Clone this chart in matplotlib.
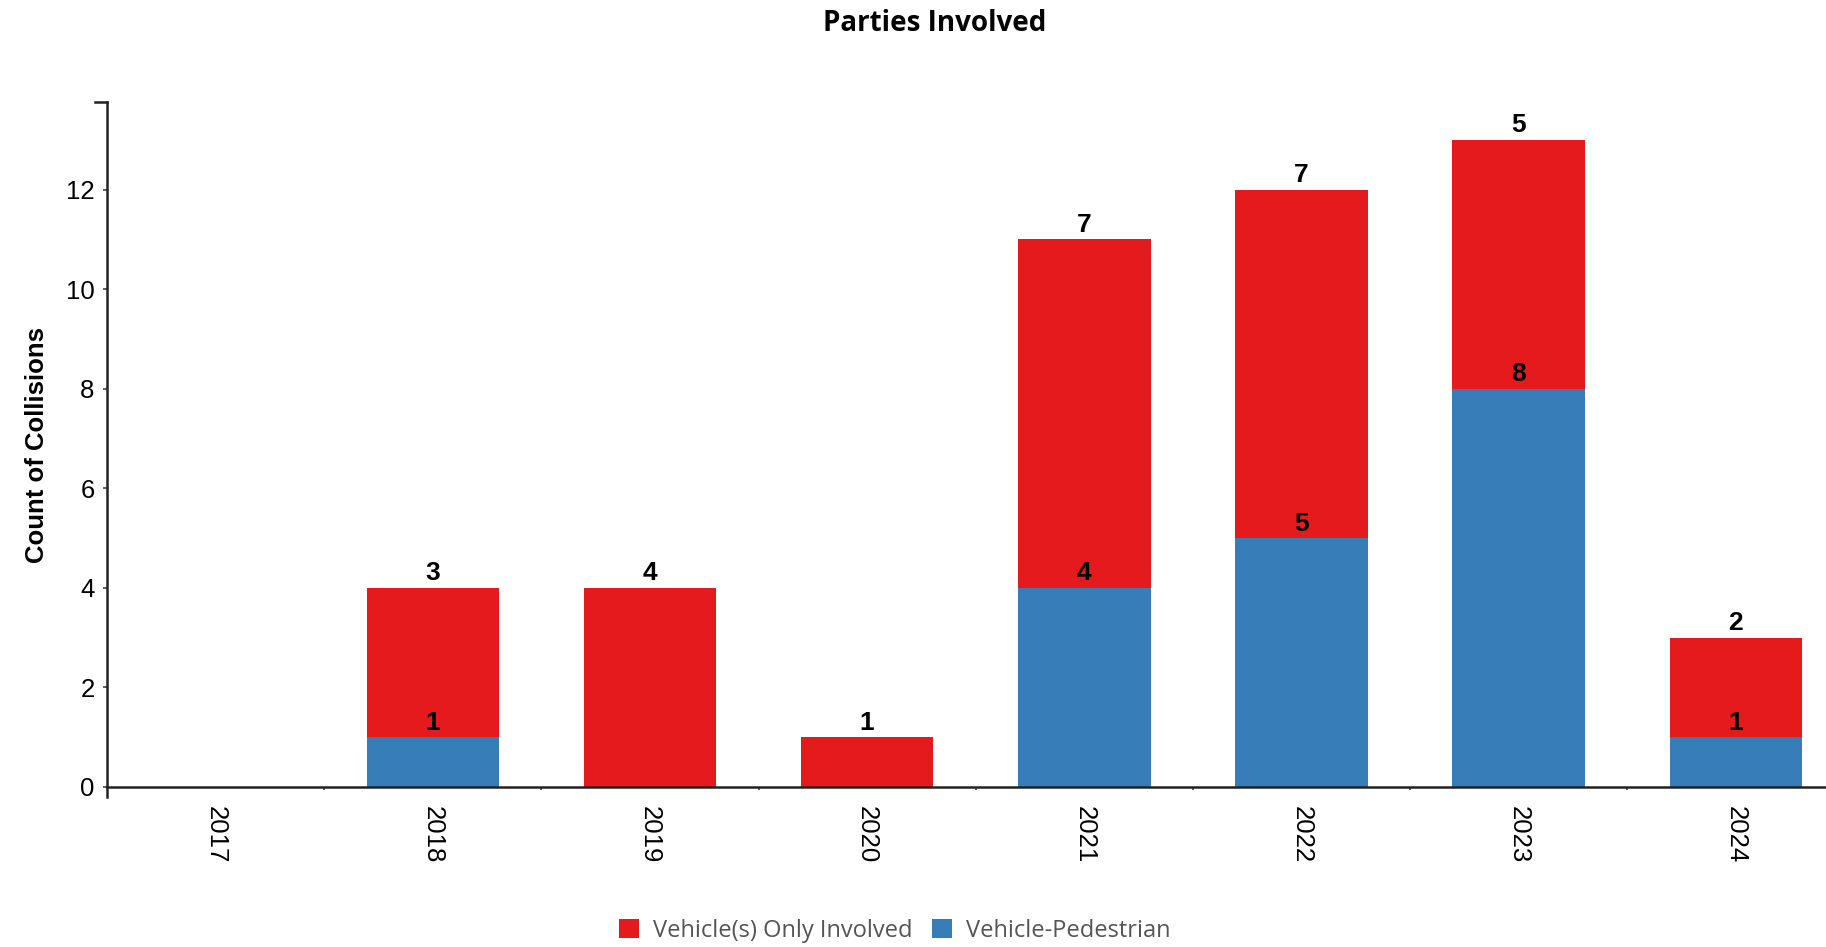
import matplotlib.pyplot as plt
import numpy as np

# data
years = ['2017', '2018', '2019', '2020', '2021', '2022', '2023', '2024']
vehicle_only = [0, 3, 4, 1, 7, 7, 5, 2]
vehicle_ped = [0, 1, 0, 0, 4, 5, 8, 1]
y_ticks = [0, 2, 4, 6, 8, 10, 12]

RED = '#E41A1C'
BLUE = '#377EB8'

fig = plt.figure(figsize=(18.26, 9.47), dpi=100)
ax = fig.add_axes([0.0586, 0.169, 0.9515, 0.7228])

x = np.arange(len(years))
ped = np.array(vehicle_ped)
only = np.array(vehicle_only)

b1 = ax.bar(x, ped, width=0.61, color=BLUE, label='Vehicle-Pedestrian')
b2 = ax.bar(x, only, width=0.61, bottom=ped, color=RED, label='Vehicle(s) Only Involved')

# value labels sit just above each segment's top
for i in range(len(years)):
    if ped[i] > 0:
        ax.text(x[i], ped[i] + 0.05, str(ped[i]), ha='center', va='bottom',
                fontsize=19, fontweight='bold', family='Liberation Sans')
    if only[i] > 0:
        ax.text(x[i], ped[i] + only[i] + 0.05, str(only[i]), ha='center', va='bottom',
                fontsize=19, fontweight='bold', family='Liberation Sans')

ax.set_xlim(-0.5, len(years) - 0.5)
ax.set_ylim(0, 13.75)

ax.set_yticks(y_ticks)
ax.set_yticklabels([str(t) for t in y_ticks], family='Liberation Sans', fontsize=18.5)
ax.set_xticks(x)
ax.set_xticklabels(years, rotation=270, family='Liberation Sans', fontsize=18.5)
ax.set_xticks(x[:-1] + 0.5, minor=True)
ax.tick_params(axis='x', which='major', length=0, pad=14)
ax.tick_params(axis='x', which='minor', length=2, width=1.2, color='#444444')
ax.tick_params(axis='y', which='major', length=3, width=1.2, color='#444444', pad=6)

for side in ['top', 'right']:
    ax.spines[side].set_visible(False)
for side in ['left', 'bottom']:
    ax.spines[side].set_linewidth(1.8)
    ax.spines[side].set_color('#222222')

# d3-style outer ticks at the ends of the domain lines
ax.plot([-0.007, 0], [1, 1], transform=ax.transAxes, color='#222222', lw=1.8, clip_on=False)
ax.plot([0, 0], [0, -0.014], transform=ax.transAxes, color='#222222', lw=1.8, clip_on=False)

ax.set_ylabel('Count of Collisions', family='Liberation Sans', fontweight='bold', fontsize=18.5, labelpad=12)

fig.suptitle('Parties Involved', x=0.512, y=0.99, va='top', family='Open Sans',
             fontweight='bold', fontsize=20)

fig.legend(handles=[b2, b1], loc='center', bbox_to_anchor=(0.49, 0.017), ncol=2,
           frameon=False, prop={'family': 'Open Sans', 'size': 17}, labelcolor='#555555',
           handlelength=0.85, handleheight=0.85, handletextpad=0.6, columnspacing=0.8,
           borderpad=0.1)

fig.savefig('out.png', dpi=100)
